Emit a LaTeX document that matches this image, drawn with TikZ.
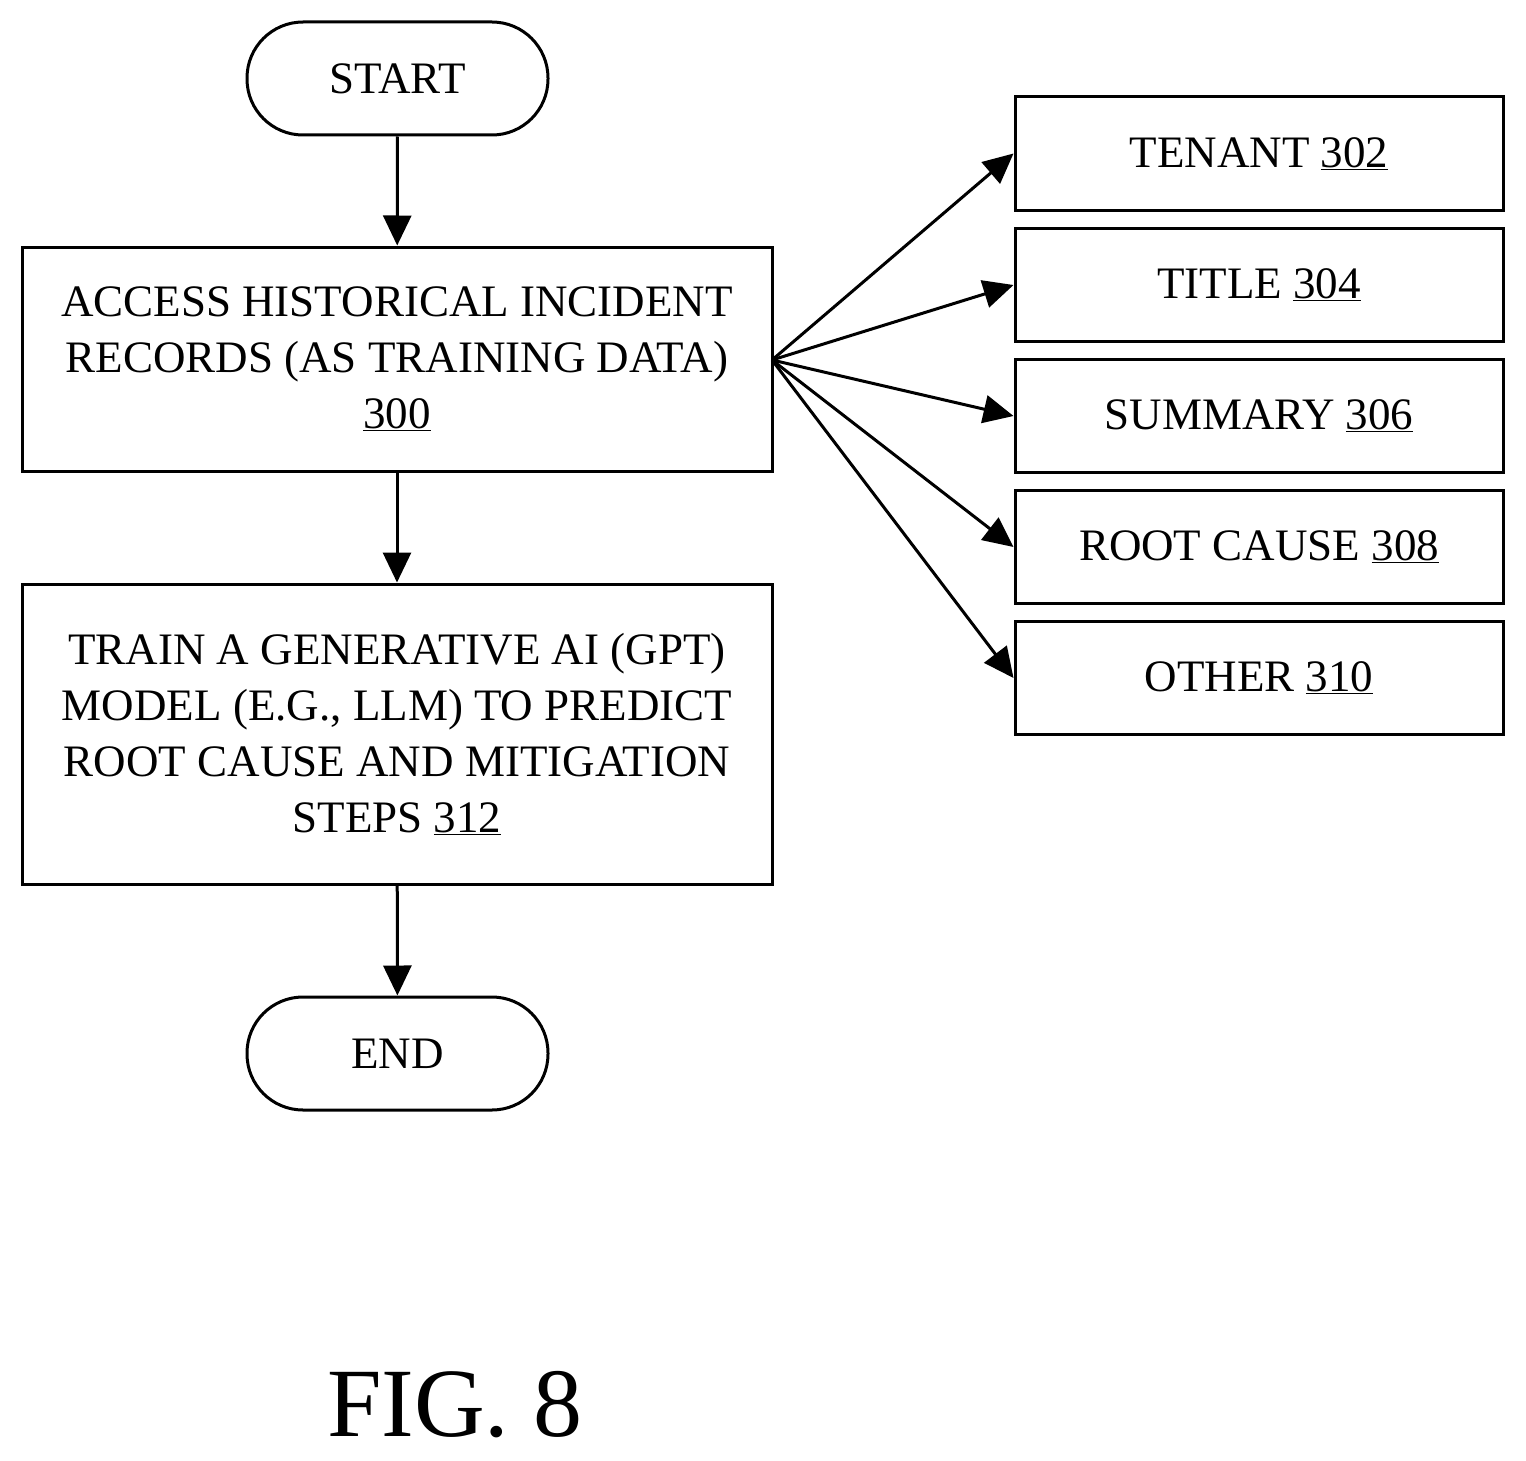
\documentclass[tikz,border=0pt]{standalone}
\usepackage{fontspec}
\setmainfont{Liberation Serif}
\usetikzlibrary{arrows.meta}
\begin{document}
\begin{tikzpicture}[x=1pt,y=-1pt,
 box/.style={draw,line width=3pt,rectangle,font=\fontsize{45}{56}\selectfont,align=center,inner sep=0pt},
 term/.style={box,rounded corners=56pt},
 arr/.style={line width=3pt,-{Triangle[length=30pt,width=28pt]}}]
\useasboundingbox (0,0) rectangle (1526,1461);
\node[term,minimum width=301pt,minimum height=113pt] (start) at (397.5,78.5) {START};
\node[box,minimum width=750pt,minimum height=224pt] (b300) at (397,359) {ACCESS HISTORICAL INCIDENT\\RECORDS (AS TRAINING DATA)\\\underline{300}};
\node[box,minimum width=750pt,minimum height=300pt] (b312) at (397,734) {TRAIN A GENERATIVE AI (GPT)\\MODEL (E.G., LLM) TO PREDICT\\ROOT CAUSE AND MITIGATION\\STEPS \underline{312}};
\node[term,minimum width=301pt,minimum height=113pt] (end) at (397.5,1053.5) {END};
\foreach \n/\t/\y in {302/TENANT/153.5,304/TITLE/285,306/SUMMARY/416,308/ROOT CAUSE/547,310/OTHER/678}
  \node[box,minimum width=488pt,minimum height=113pt] (b\n) at (1259,\y) {\t{} \underline{\n}};
\draw[arr] (start) -- (b300);
\draw[arr] (b300) -- (b312);
\draw[arr] (b312) -- (end);
\coordinate (src) at (772,360);
\foreach \n in {302,304,306,308,310} \draw[arr] (src) -- (b\n.west);
\node[font=\fontsize{98}{104}\selectfont] (fig) at (455,1405) {FIG. 8};
\end{tikzpicture}
\end{document}
